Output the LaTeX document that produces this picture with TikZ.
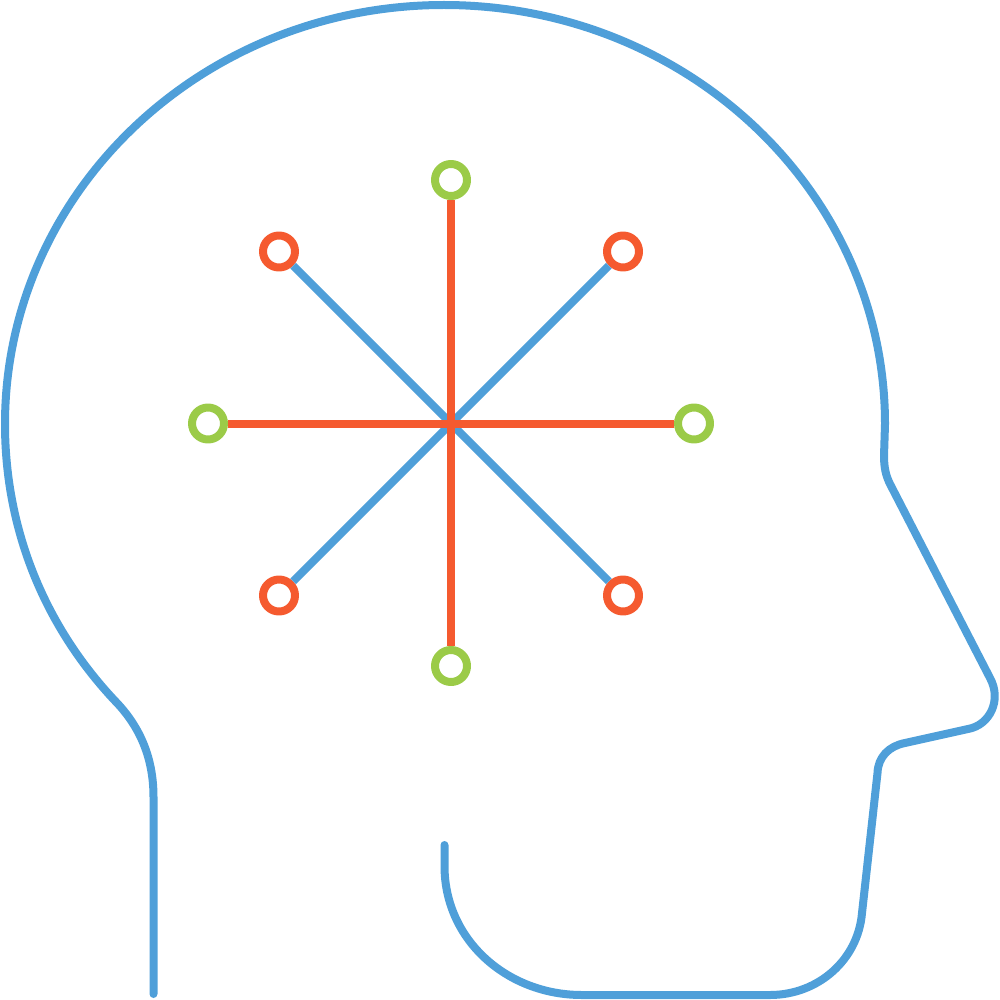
\documentclass[tikz,border=0pt]{standalone}
\definecolor{headblue}{HTML}{4F9FD9}
\definecolor{spokered}{HTML}{F55A2F}
\definecolor{spokegreen}{HTML}{9BCB48}
\tikzset{
  headline/.style={draw=headblue,line width=8pt,line cap=round,line join=round},
  bluespoke/.style={draw=headblue,line width=8pt,line cap=butt},
  redspoke/.style={draw=spokered,line width=8pt,line cap=butt},
  redend/.style={circle,draw=spokered,fill=white,line width=8pt,minimum size=32pt,inner sep=0pt},
  greenend/.style={circle,draw=spokegreen,fill=white,line width=8pt,minimum size=32pt,inner sep=0pt}
}
\begin{document}
\begin{tikzpicture}[x=1pt,y=-1pt,line join = round, line cap = round]
    \useasboundingbox (0,0) rectangle (1000,1000);
    %head outline
    \draw[headline] (153.5,994)--(153.5,797)
      .. controls (153.5,758) and (140,728) .. (118,704)
      .. controls (45,628) and (5,530) .. (5,424)
      .. controls (5,192) and (202,5) .. (444,5)
      .. controls (687,5) and (885,192) .. (885,424)
      --(884,456)
      .. controls (884,468) and (886,476) .. (890,484)
      --(990,678)
      .. controls (1002,700) and (990,725) .. (968,729)
      --(905,743)
      .. controls (889,746) and (878,757) .. (877.5,773)
      --(862,913)
      .. controls (858,960) and (818,995) .. (770,995)
      --(582,995)
      .. controls (507,995) and (444.5,940) .. (444.5,866)
      --(444.5,845);
    %centre and ends
    \coordinate (hub) at (451,423.5);
    %spokes
    \node[redend] (nw) at (279,251.5) {};
    \node[redend] (ne) at (623,251.5) {};
    \node[redend] (sw) at (279,595.5) {};
    \node[redend] (se) at (623,595.5) {};
    \node[greenend] (top) at (451,180) {};
    \node[greenend] (bot) at (451,666) {};
    \node[greenend] (lft) at (208,423.5) {};
    \node[greenend] (rgt) at (694,423.5) {};
    \draw[bluespoke] (nw)--(hub) (ne)--(hub) (sw)--(hub) (se)--(hub);
    \draw[redspoke] (top)--(bot) (lft)--(rgt);
\end{tikzpicture}
\end{document}
